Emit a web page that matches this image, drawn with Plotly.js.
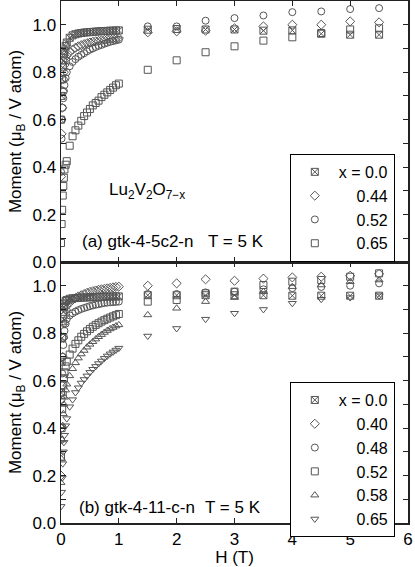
<!DOCTYPE html>
<html>
<head>
<meta charset="utf-8">
<script src="https://cdn.plot.ly/plotly-3.0.1.min.js"></script>
<style>
  html, body { margin: 0; padding: 0; background: #fff; }
  #chart { width: 415px; height: 567px; }
</style>
</head>
<body>
<div id="chart"></div>
<script>
// field values (T)
const H_low = [0, 0.01, 0.02, 0.03, 0.04, 0.05, 0.06, 0.08, 0.1, 0.15, 0.2, 0.25, 0.3, 0.35, 0.4,
    0.45, 0.5, 0.55, 0.6, 0.65, 0.7, 0.75, 0.8, 0.85, 0.9, 0.95, 1.0];
const H_high = [1.5, 2, 2.5, 3, 3.5, 4, 4.5, 5, 5.5];

// (a) gtk-4-5c2-n
const a_labels = ['x = 0.0', '0.44', '0.52', '0.65'];
const a_x00 = [0.60, 0.70, 0.77, 0.82, 0.85, 0.875, 0.89, 0.91, 0.925, 0.945, 0.955, 0.96, 0.963, 0.965, 0.967,
    0.968, 0.969, 0.97, 0.971, 0.972, 0.973, 0.973, 0.974, 0.975, 0.975, 0.976, 0.976,
    0.979, 0.982, 0.98, 0.98, 0.975, 0.976, 0.962, 0.958, 0.958];
const a_x44 = [0.36, 0.54, 0.65, 0.72, 0.77, 0.80, 0.83, 0.855, 0.87, 0.885, 0.895, 0.903, 0.909, 0.914, 0.918,
    0.922, 0.925, 0.928, 0.93, 0.932, 0.934, 0.936, 0.938, 0.94, 0.941, 0.943, 0.944,
    0.968, 0.972, 0.975, 0.985, 0.993, 1.0, 1.0, 1.014, 1.01];
const a_x52 = [0.38, 0.52, 0.60, 0.65, 0.69, 0.72, 0.745, 0.775, 0.80, 0.825, 0.843, 0.855, 0.865, 0.873, 0.88,
    0.888, 0.895, 0.9, 0.906, 0.911, 0.915, 0.92, 0.924, 0.928, 0.931, 0.934, 0.937,
    0.993, 0.993, 1.017, 1.028, 1.039, 1.053, 1.056, 1.066, 1.07];
const a_x65 = [0.08, 0.16, 0.22, 0.28, 0.32, 0.355, 0.39, 0.41, 0.425, 0.49, 0.53, 0.555, 0.575, 0.595, 0.615,
    0.63, 0.645, 0.66, 0.67, 0.68, 0.695, 0.705, 0.715, 0.725, 0.735, 0.745, 0.752,
    0.81, 0.85, 0.884, 0.909, 0.933, 0.947, 0.965, 0.98, 0.985];

// (b) gtk-4-11-c-n
const b_labels = ['x = 0.0', '0.40', '0.48', '0.52', '0.58', '0.65'];
const b_x00 = [0.55, 0.68, 0.78, 0.85, 0.89, 0.91, 0.925, 0.935, 0.94, 0.945, 0.947, 0.948, 0.949, 0.95, 0.95,
    0.951, 0.951, 0.952, 0.952, 0.953, 0.953, 0.954, 0.954, 0.954, 0.955, 0.955, 0.955,
    0.96, 0.96, 0.96, 0.96, 0.96, 0.958, 0.958, 0.958, 0.958];
const b_x40 = [0.20, 0.40, 0.58, 0.70, 0.78, 0.84, 0.875, 0.90, 0.915, 0.93, 0.94, 0.948, 0.955, 0.96, 0.965,
    0.97, 0.974, 0.977, 0.98, 0.983, 0.985, 0.987, 0.989, 0.991, 0.993, 0.995, 0.996,
    1.0, 1.01, 1.027, 1.021, 1.03, 1.035, 1.038, 1.042, 1.05];
const b_x48 = [0.35, 0.52, 0.63, 0.70, 0.75, 0.785, 0.81, 0.84, 0.86, 0.875, 0.884, 0.891, 0.897, 0.902, 0.906,
    0.91, 0.914, 0.917, 0.92, 0.922, 0.925, 0.927, 0.929, 0.93, 0.931, 0.932, 0.933,
    0.965, 0.965, 0.972, 0.975, 0.985, 0.99, 0.995, 1.0, 1.01];
const b_x52 = [0.28, 0.40, 0.48, 0.54, 0.58, 0.61, 0.635, 0.66, 0.68, 0.71, 0.735, 0.755, 0.77, 0.785, 0.797,
    0.808, 0.818, 0.827, 0.835, 0.842, 0.849, 0.855, 0.861, 0.866, 0.871, 0.876, 0.881,
    0.933, 0.94, 0.968, 0.975, 1.003, 1.017, 1.024, 1.038, 1.052];
const b_x58 = [0.17, 0.27, 0.35, 0.41, 0.46, 0.50, 0.53, 0.56, 0.585, 0.62, 0.65, 0.675, 0.695, 0.712, 0.727,
    0.741, 0.753, 0.764, 0.775, 0.785, 0.794, 0.803, 0.811, 0.818, 0.824, 0.83, 0.835,
    0.877, 0.905, 0.933, 0.95, 0.975, 0.996, 1.003, 1.017, 1.024];
const b_x65 = [0.07, 0.13, 0.19, 0.25, 0.30, 0.34, 0.37, 0.41, 0.44, 0.49, 0.52, 0.55, 0.57, 0.59, 0.605,
    0.62, 0.635, 0.648, 0.66, 0.672, 0.683, 0.694, 0.704, 0.713, 0.721, 0.729, 0.737,
    0.788, 0.82, 0.859, 0.884, 0.90, 0.926, 0.943, 0.95, 0.958];

const H = H_low.concat( H_high );
const FONT = 'Liberation Sans, Arial, sans-serif';
const INK = '#555';

// pad the short labels so they line up on the right, like the original legend
function pad( label ) {
    return label.startsWith( 'x' ) ? label : '\u00a0\u00a0\u00a0\u00a0' + label;
}

function series( y, name, symbol, xa, ya, legend ) {
    return {
        type: 'scatter',
        mode: 'markers',
        x: H,
        y: y,
        name: pad( name ),
        xaxis: xa,
        yaxis: ya,
        legend: legend,
        marker: { symbol: symbol, size: 7, color: INK, line: { width: 1, color: INK } }
    };
}

const data = [
    series( a_x65, a_labels[ 3 ], 'square-open', 'x2', 'y2', 'legend' ),
    series( a_x52, a_labels[ 2 ], 'circle-open', 'x2', 'y2', 'legend' ),
    series( a_x44, a_labels[ 1 ], 'diamond-open', 'x2', 'y2', 'legend' ),
    series( a_x00, a_labels[ 0 ], 'square-x-open', 'x2', 'y2', 'legend' ),
    series( b_x65, b_labels[ 5 ], 'triangle-down-open', 'x', 'y', 'legend2' ),
    series( b_x58, b_labels[ 4 ], 'triangle-up-open', 'x', 'y', 'legend2' ),
    series( b_x52, b_labels[ 3 ], 'square-open', 'x', 'y', 'legend2' ),
    series( b_x48, b_labels[ 2 ], 'circle-open', 'x', 'y', 'legend2' ),
    series( b_x40, b_labels[ 1 ], 'diamond-open', 'x', 'y', 'legend2' ),
    series( b_x00, b_labels[ 0 ], 'square-x-open', 'x', 'y', 'legend2' )
];

const axisCommon = {
    showline: true,
    linecolor: '#222',
    linewidth: 1.5,
    mirror: 'ticks',
    ticks: 'inside',
    ticklen: 5,
    tickcolor: '#222',
    showgrid: false,
    zeroline: false,
    tickfont: { family: FONT, size: 17, color: '#000' }
};

const yCommon = Object.assign( {}, axisCommon, {
    range: [ 0, 1.1 ],
    dtick: 0.2,
    tick0: 0,
    tickformat: '.1f',
    minor: { dtick: 0.1, ticks: 'inside', ticklen: 5, tickcolor: '#222' },
    title: {
        text: 'Moment (μ<sub>B</sub> / V atom)',
        font: { family: FONT, size: 17, color: '#000' },
        standoff: 6
    }
} );

const legendCommon = {
    xanchor: 'right',
    x: 0.962,
    yanchor: 'top',
    bgcolor: '#fff',
    bordercolor: '#000',
    borderwidth: 1,
    itemwidth: 38,
    font: { family: FONT, size: 16, color: '#000' },
    traceorder: 'reversed'
};

const layout = {
    width: 415,
    height: 567,
    margin: { l: 61, r: 7, t: 1, b: 44 },
    paper_bgcolor: '#fff',
    plot_bgcolor: '#fff',
    showlegend: true,
    font: { family: FONT, color: '#000' },
    xaxis: Object.assign( {}, axisCommon, {
        range: [ 0, 6 ],
        dtick: 1,
        anchor: 'y',
        title: { text: 'H (T)', font: { family: FONT, size: 17, color: '#000' }, standoff: 2 }
    } ),
    xaxis2: Object.assign( {}, axisCommon, {
        range: [ 0, 6 ],
        dtick: 1,
        anchor: 'y2',
        matches: 'x',
        showticklabels: false
    } ),
    yaxis: Object.assign( {}, yCommon, { domain: [ 0, 0.5 ], anchor: 'x' } ),
    yaxis2: Object.assign( {}, yCommon, { domain: [ 0.5, 1 ], anchor: 'x2' } ),
    legend: Object.assign( {}, legendCommon, { y: 0.707 } ),
    legend2: Object.assign( {}, legendCommon, { y: 0.270 } ),
    annotations: [
        {
            xref: 'x2', yref: 'y2', x: 1.49, y: 0.30, xanchor: 'center', yanchor: 'middle', showarrow: false,
            text: 'Lu<sub>2</sub>V<sub>2</sub>O<sub>7−x</sub>',
            font: { family: FONT, size: 17, color: '#000' }
        },
        {
            xref: 'x2', yref: 'y2', x: 0.32, y: 0.085, xanchor: 'left', yanchor: 'middle', showarrow: false,
            text: '(a) gtk-4-5c2-n', font: { family: FONT, size: 17, color: '#000' }
        },
        {
            xref: 'x2', yref: 'y2', x: 2.5, y: 0.085, xanchor: 'left', yanchor: 'middle', showarrow: false,
            text: 'T = 5 K', font: { family: FONT, size: 17, color: '#000' }
        },
        {
            xref: 'x', yref: 'y', x: 0.28, y: 0.065, xanchor: 'left', yanchor: 'middle', showarrow: false,
            text: '(b) gtk-4-11-c-n', font: { family: FONT, size: 17, color: '#000' }
        },
        {
            xref: 'x', yref: 'y', x: 2.45, y: 0.065, xanchor: 'left', yanchor: 'middle', showarrow: false,
            text: 'T = 5 K', font: { family: FONT, size: 17, color: '#000' }
        }
    ]
};

Plotly.newPlot( 'chart', data, layout, { displayModeBar: false, staticPlot: true } );
</script>
</body>
</html>
